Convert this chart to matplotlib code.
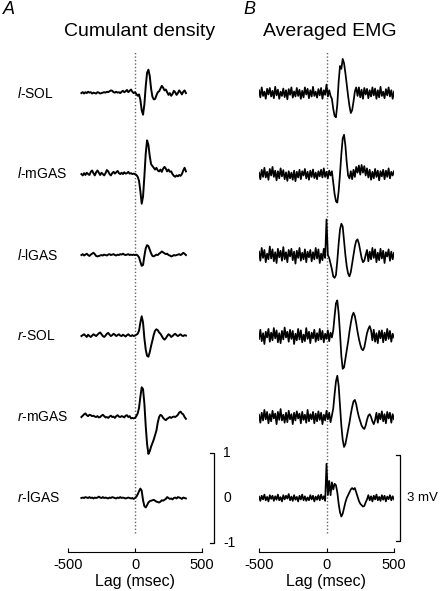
import numpy as np
import matplotlib
matplotlib.use('Agg')
import matplotlib.pyplot as plt

plt.rcParams['font.family'] = ['Liberation Sans', 'DejaVu Sans']
plt.rcParams['mathtext.fontset'] = 'custom'
plt.rcParams['mathtext.it'] = 'Liberation Sans:italic'
plt.rcParams['mathtext.rm'] = 'Liberation Sans'

muscles = ['l-SOL', 'l-mGAS', 'l-lGAS', 'r-SOL', 'r-mGAS', 'r-lGAS']
offsets = [9.0, 7.2, 5.4, 3.6, 1.8, 0.0]

# cumulant density, lag -400..380 ms, step 10
lag_cum = np.arange(-400, 381, 10)
cum_l_sol = [0.00, 0.02, -0.01, 0.02, 0.00, 0.03, 0.01, 0.02, -0.01, 0.01,
             0.00, -0.01, 0.02, 0.01, -0.01, 0.00, 0.01, 0.02, 0.01, 0.03,
             0.02, 0.04, 0.06, 0.05, 0.02, 0.01, 0.03, 0.01, 0.02, 0.00,
             0.03, 0.05, 0.02, 0.04, 0.07, 0.02, 0.05, 0.08, 0.03, 0.00,
             0.02, -0.02, -0.06, -0.03, -0.15, -0.38, -0.48, -0.25, 0.15, 0.45,
             0.52, 0.38, 0.10, -0.08, -0.14, -0.13, -0.05, 0.02, 0.04, 0.10,
             0.16, 0.12, 0.06, 0.08, 0.02, -0.04, 0.00, -0.06, -0.02, 0.05,
             0.02, -0.04, 0.00, 0.06, 0.02, -0.03, 0.03, 0.06, 0.00]
cum_l_mgas = [0.00, -0.03, 0.02, -0.02, 0.03, 0.00, -0.02, 0.05, 0.08, 0.02,
              -0.03, 0.04, 0.08, 0.03, -0.02, 0.03, 0.00, -0.03, 0.02, 0.09,
              0.06, 0.00, -0.03, 0.02, 0.05, 0.01, 0.04, 0.07, 0.02, 0.00,
              0.03, 0.00, 0.04, 0.01, 0.02, 0.05, 0.01, 0.02, 0.00, 0.01,
              0.00, -0.02, -0.06, -0.15, -0.38, -0.66, -0.50, -0.05, 0.45, 0.75,
              0.65, 0.40, 0.22, 0.18, 0.14, 0.10, 0.14, 0.08, 0.06, 0.10,
              0.05, 0.12, 0.16, 0.12, 0.06, 0.10, 0.05, 0.06, 0.00, -0.04,
              -0.06, -0.03, -0.05, -0.02, -0.04, 0.00, 0.08, 0.14, 0.06]
cum_l_lgas = [0.00, 0.02, -0.01, 0.01, 0.03, 0.00, -0.02, 0.01, 0.03, 0.05,
              0.02, -0.02, -0.03, -0.02, -0.01, 0.00, -0.01, 0.01, 0.00, -0.01,
              0.01, 0.02, 0.00, 0.01, 0.02, 0.00, -0.01, 0.01, 0.00, 0.02,
              0.01, 0.03, 0.01, 0.00, 0.01, 0.02, 0.00, 0.01, 0.00, 0.01,
              0.00, 0.01, -0.01, -0.05, -0.15, -0.24, -0.22, -0.02, 0.15, 0.22,
              0.20, 0.12, 0.04, -0.02, -0.03, -0.01, 0.01, 0.00, 0.03, 0.05,
              0.08, 0.06, 0.04, 0.02, 0.03, 0.00, -0.01, -0.03, -0.02, 0.00,
              -0.01, 0.00, 0.01, 0.02, 0.00, 0.02, 0.05, 0.03, 0.00]
cum_r_sol = [0.00, 0.02, 0.04, 0.01, -0.02, 0.03, 0.00, -0.02, 0.01, 0.04,
             0.02, 0.00, 0.03, 0.06, 0.08, 0.04, 0.00, -0.02, 0.01, 0.05,
             0.07, 0.03, 0.00, 0.02, 0.05, 0.03, 0.00, 0.02, 0.04, 0.01,
             0.00, 0.03, 0.01, -0.01, 0.02, 0.04, 0.01, 0.00, 0.02, 0.00,
             0.01, 0.03, 0.05, 0.12, 0.30, 0.44, 0.30, -0.05, -0.30, -0.44,
             -0.46, -0.36, -0.22, -0.10, 0.03, 0.12, 0.15, 0.13, 0.08, 0.05,
             0.00, -0.05, -0.08, -0.05, 0.00, 0.04, 0.02, -0.02, 0.00, 0.03,
             0.05, 0.02, 0.00, 0.02, 0.04, 0.01, 0.00, 0.02, 0.01]
cum_r_mgas = [0.00, 0.03, 0.06, 0.08, 0.04, 0.02, 0.05, 0.04, 0.02, 0.03,
              0.01, 0.00, 0.02, -0.01, 0.00, 0.03, 0.05, 0.02, -0.01, 0.00,
              -0.02, 0.01, 0.03, 0.00, 0.01, -0.02, 0.02, 0.04, 0.01, 0.00,
              0.02, 0.01, -0.01, 0.03, 0.04, 0.00, 0.02, -0.03, -0.02, -0.03,
              -0.02, 0.02, 0.08, 0.20, 0.45, 0.66, 0.62, 0.30, -0.20, -0.60,
              -0.82, -0.76, -0.66, -0.58, -0.50, -0.40, -0.30, -0.12, 0.00, 0.05,
              0.03, -0.02, -0.05, -0.07, -0.04, -0.02, 0.00, -0.02, 0.00, 0.01,
              0.00, 0.02, 0.05, 0.10, 0.12, 0.08, 0.06, 0.00, -0.04]
cum_r_lgas = [0.00, 0.01, 0.00, 0.02, 0.01, 0.00, 0.02, 0.00, 0.01, -0.01,
              0.01, 0.00, 0.01, 0.03, 0.01, 0.00, 0.02, 0.00, 0.01, 0.00,
              -0.01, 0.01, 0.00, 0.02, 0.01, 0.00, -0.01, 0.01, 0.00, 0.02,
              0.00, 0.01, 0.00, -0.01, 0.00, 0.01, 0.00, -0.01, 0.00, -0.02,
              0.00, 0.03, 0.08, 0.15, 0.21, 0.16, -0.05, -0.18, -0.21, -0.16,
              -0.10, -0.07, -0.06, -0.05, -0.04, -0.06, -0.08, -0.09, -0.10, -0.08,
              -0.05, -0.06, -0.04, -0.02, 0.02, 0.00, -0.02, -0.01, -0.03, 0.00,
              0.01, -0.01, 0.02, 0.01, 0.00, -0.02, 0.01, 0.00, -0.01]

# averaged EMG (mV), lag -500..500 ms, step 10
lag_emg = np.arange(-500, 501, 10)
emg_l_sol = [0.10, -0.15, 0.20, -0.10, 0.05, -0.20, 0.15, -0.05, 0.18, -0.12,
             0.08, -0.18, 0.22, -0.08, 0.12, -0.20, 0.05, -0.10, 0.16, -0.14,
             0.10, -0.22, 0.14, -0.06, 0.20, -0.16, 0.06, -0.12, 0.18, -0.10,
             0.12, -0.20, 0.08, -0.15, 0.20, -0.05, 0.15, -0.18, 0.10, -0.12,
             0.22, -0.10, 0.05, -0.16, 0.14, -0.08, 0.18, -0.20, 0.10, -0.06,
             0.30, -0.12, 0.10, -0.10, -0.20, -0.55, -0.80, -0.85, -0.40, 0.40,
             0.95, 0.85, 1.20, 1.05, 0.70, 0.30, -0.10, -0.45, -0.70, -0.60,
             -0.30, 0.05, 0.20, -0.10, 0.20, -0.15, 0.12, -0.20, 0.18, -0.05,
             0.15, -0.18, 0.10, -0.12, 0.20, -0.08, 0.16, -0.20, 0.10, -0.15,
             0.22, -0.10, 0.05, -0.18, 0.14, -0.08, 0.20, -0.12, 0.10, -0.20,
             0.05]
emg_l_mgas = [0.05, -0.18, 0.15, -0.10, 0.22, -0.12, 0.08, -0.20, 0.18, -0.05,
              0.25, -0.10, 0.12, -0.22, 0.10, -0.15, 0.20, -0.08, 0.14, -0.18,
              0.06, -0.24, 0.10, -0.15, 0.05, -0.20, 0.12, -0.25, 0.08, -0.12,
              0.15, -0.18, 0.10, -0.05, 0.18, -0.15, 0.08, -0.20, 0.12, -0.10,
              0.16, -0.14, 0.05, -0.18, 0.10, -0.08, 0.15, -0.12, 0.20, -0.10,
              0.08, -0.15, 0.12, -0.05, 0.10, -0.30, -0.70, -0.95, -1.00, -0.60,
              0.00, 0.70, 1.25, 1.38, 1.00, 0.40, -0.05, -0.15, 0.10, -0.18,
              0.15, -0.10, 0.25, 0.05, 0.30, -0.02, 0.32, 0.05, 0.28, -0.05,
              0.20, -0.12, 0.15, -0.20, 0.08, -0.15, 0.18, -0.10, 0.12, -0.22,
              0.10, -0.08, 0.15, -0.18, 0.12, -0.10, 0.20, -0.15, 0.08, -0.05,
              0.10]
emg_l_lgas = [0.12, -0.20, 0.25, -0.10, 0.18, -0.25, 0.05, -0.15, 0.30, -0.12,
              0.20, -0.22, 0.10, -0.28, 0.22, -0.08, 0.15, -0.20, 0.28, -0.15,
              0.10, -0.25, 0.18, -0.05, 0.22, -0.18, 0.12, -0.30, 0.15, -0.10,
              0.25, -0.20, 0.08, -0.15, 0.20, -0.25, 0.12, -0.08, 0.18, -0.22,
              0.10, -0.15, 0.25, -0.12, 0.20, -0.28, 0.05, -0.18, 0.22, -0.10,
              1.25, 0.00, -0.10, -0.30, -0.50, -0.75, -0.80, -0.70, -0.20, 0.40,
              0.90, 1.10, 1.00, 0.50, 0.00, -0.40, -0.65, -0.75, -0.60, -0.30,
              0.00, 0.30, 0.50, 0.55, 0.40, 0.15, -0.10, -0.25, -0.20, 0.00,
              0.18, -0.22, 0.12, -0.15, 0.25, -0.10, 0.20, -0.25, 0.08, -0.18,
              0.22, -0.12, 0.15, -0.28, 0.10, -0.05, 0.20, -0.20, 0.12, -0.15,
              0.08]
emg_r_sol = [-0.10, 0.22, -0.18, 0.10, -0.28, 0.15, -0.05, 0.25, -0.20, 0.12,
             -0.15, 0.28, -0.08, 0.20, -0.22, 0.10, -0.25, 0.18, -0.12, 0.30,
             -0.05, 0.15, -0.20, 0.22, -0.10, 0.18, -0.28, 0.08, -0.15, 0.25,
             -0.12, 0.20, -0.22, 0.05, -0.18, 0.28, -0.10, 0.15, -0.25, 0.12,
             -0.08, 0.22, -0.20, 0.10, -0.15, 0.25, -0.12, 0.18, -0.22, 0.08,
             -0.10, 0.20, -0.18, 0.12, -0.05, 0.20, 0.70, 1.15, 1.25, 0.80,
             0.10, -0.70, -1.15, -1.10, -0.80, -0.50, -0.20, 0.15, 0.45, 0.70,
             0.82, 0.70, 0.45, 0.15, -0.10, -0.30, -0.45, -0.50, -0.40, -0.15,
             0.10, 0.25, 0.35, 0.20, -0.15, 0.22, -0.20, 0.10, -0.25, 0.18,
             -0.08, 0.20, -0.22, 0.12, -0.15, 0.25, -0.10, 0.18, -0.20, 0.08,
             -0.05]
emg_r_mgas = [0.08, -0.20, 0.15, -0.12, 0.25, -0.08, 0.18, -0.22, 0.10, -0.15,
              0.22, -0.05, 0.12, -0.25, 0.18, -0.10, 0.28, -0.12, 0.08, -0.20,
              0.15, -0.18, 0.22, -0.08, 0.10, -0.25, 0.15, -0.12, 0.20, -0.05,
              0.12, -0.22, 0.18, -0.10, 0.08, -0.20, 0.25, -0.15, 0.10, -0.08,
              0.18, -0.22, 0.12, -0.15, 0.20, -0.10, 0.15, -0.25, 0.08, -0.12,
              0.22, -0.08, 0.15, -0.18, 0.05, 0.30, 0.80, 1.25, 1.45, 1.10,
              0.40, -0.30, -0.80, -1.05, -0.95, -0.70, -0.45, -0.20, 0.10, 0.35,
              0.55, 0.60, 0.45, 0.20, 0.00, -0.15, -0.30, -0.38, -0.42, -0.30,
              -0.10, 0.05, 0.10, 0.00, -0.15, -0.25, -0.10, 0.15, -0.20, 0.12,
              -0.08, 0.20, -0.15, 0.10, -0.22, 0.18, -0.05, 0.15, -0.20, 0.10,
              -0.08]
emg_r_lgas = [0.05, -0.10, 0.08, -0.05, 0.12, -0.08, 0.04, -0.12, 0.10, -0.03,
              0.08, -0.10, 0.06, -0.06, 0.12, -0.08, 0.03, -0.12, 0.10, -0.05,
              0.08, -0.02, 0.14, -0.08, 0.05, -0.10, 0.10, -0.06, 0.04, -0.12,
              0.08, -0.05, 0.12, -0.08, 0.06, -0.10, 0.02, -0.08, 0.10, -0.05,
              0.08, -0.12, 0.05, -0.06, 0.10, -0.08, 0.12, -0.04, 0.06, -0.10,
              1.20, 0.10, 0.60, 0.10, 0.55, 0.30, 0.50, 0.45, 0.20, -0.20,
              -0.50, -0.65, -0.55, -0.35, -0.15, 0.00, 0.10, 0.20, 0.30, 0.35,
              0.30, 0.35, 0.20, 0.05, -0.10, -0.20, -0.25, -0.30, -0.28, -0.15,
              -0.05, 0.10, -0.08, 0.06, -0.12, 0.08, -0.05, 0.12, -0.08, 0.04,
              -0.10, 0.10, -0.06, 0.08, -0.12, 0.05, -0.04, 0.10, -0.08, 0.06,
              -0.05]

cum_traces = [cum_l_sol, cum_l_mgas, cum_l_lgas, cum_r_sol, cum_r_mgas, cum_r_lgas]
emg_traces = [emg_l_sol, emg_l_mgas, emg_l_lgas, emg_r_sol, emg_r_mgas, emg_r_lgas]
emg_scale = 1.9 / 3.0   # plot units per mV (3 mV bar)

W, H = 441, 591
fig = plt.figure(figsize=(W / 100, H / 100), dpi=100)
ylim = (-1.2, 10.18)
axA = fig.add_axes([68 / W, 1 - 552 / H, 134 / W, 512 / H])
axB = fig.add_axes([259 / W, 1 - 552 / H, 135 / W, 512 / H])

for ax in (axA, axB):
    ax.set_xlim(-500, 500)
    ax.set_ylim(*ylim)
    for s in ('top', 'right', 'left'):
        ax.spines[s].set_visible(False)
    ax.spines['bottom'].set_linewidth(0.8)
    ax.set_yticks([])
    ax.set_xticks([-500, 0, 500])
    ax.set_xticklabels(['-500', '0', '500'])
    ax.tick_params(axis='x', direction='in', length=3, width=0.8,
                   labelsize=10.5, pad=4)
    ax.set_xlabel('Lag (msec)', fontsize=11.5, labelpad=2)
    ax.plot([0, 0], [-0.78, 9.93], ls=(0, (1, 1.5)), color='#666666', lw=1.0)

for tr, off in zip(cum_traces, offsets):
    axA.plot(lag_cum, np.array(tr) + off, color='black', lw=1.4)
for tr, off in zip(emg_traces, offsets):
    axB.plot(lag_emg, np.array(tr) * emg_scale + off, color='black', lw=1.25)

# scale bar A (cumulant, -1..1)
xa = 590
axA.plot([xa - 30, xa, xa, xa - 30], [1, 1, -1, -1], color='black', lw=0.9,
         clip_on=False)
for v, lab in zip([1, 0, -1], ['1', '0', '-1']):
    axA.text(xa + 70, v, lab, fontsize=10, va='center', ha='left', clip_on=False)

# scale bar B (3 mV)
xb = 545
axB.plot([xb - 30, xb, xb, xb - 30], [0.95, 0.95, 0.95 - 1.9, 0.95 - 1.9],
         color='black', lw=0.9, clip_on=False)
axB.text(xb + 50, 0.0, '3 mV', fontsize=9.5, va='center', ha='left', clip_on=False)

# row labels
for name, off in zip(muscles, offsets):
    side, m = name.split('-')
    y = 1 - (498 - 45 * off) / H
    fig.text(17 / W, y, r'$\it{' + side + '}$-' + m, fontsize=10,
             va='center', ha='left')

fig.text(3 / W, 1 - 10 / H, 'A', fontsize=13, style='italic', va='center')
fig.text(243 / W, 1 - 10 / H, 'B', fontsize=13, style='italic', va='center')
fig.text(140 / W, 1 - 32 / H, 'Cumulant density', fontsize=14, ha='center', va='center')
fig.text(330 / W, 1 - 32 / H, 'Averaged EMG', fontsize=14, ha='center', va='center')

fig.savefig('out.png', dpi=100)
